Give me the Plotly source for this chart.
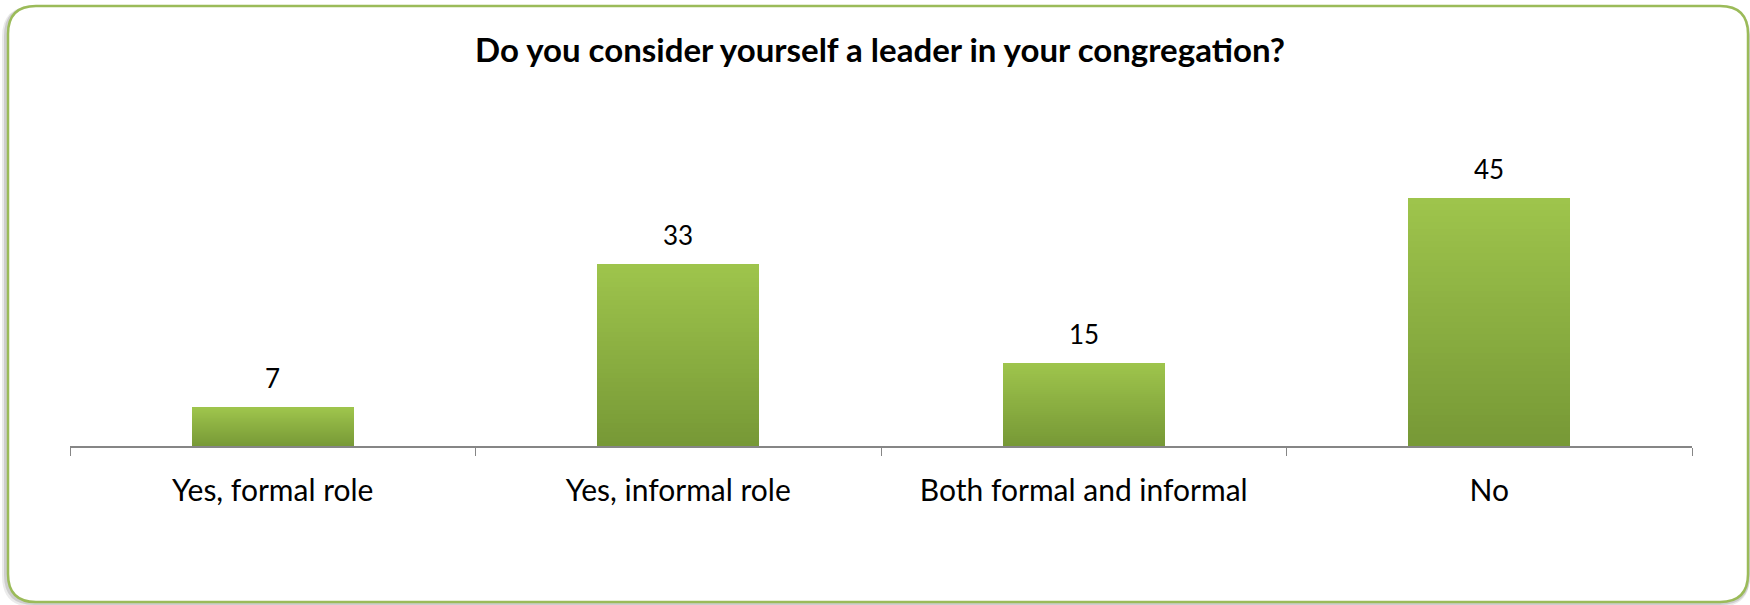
import plotly.graph_objects as go

categories = ["Yes, formal role", "Yes, informal role", "Both formal and informal", "No"]
values = [7, 33, 15, 45]
title_text = "Do you consider yourself a leader in your congregation?"

W, H = 1750, 605
PL, PR, PT, PB = 70, 1692, 170, 446  # plot area in pixels
Y_MAX = 50

N_SLICES = 40
top_rgb = (158, 196, 76)
bot_rgb = (119, 153, 54)

fig = go.Figure()
for i in range(N_SLICES):
    t = i / (N_SLICES - 1)
    c = tuple(round(bot_rgb[k] + (top_rgb[k] - bot_rgb[k]) * t) for k in range(3))
    fig.add_bar(
        x=categories,
        y=[v / N_SLICES for v in values],
        marker=dict(color="rgb(%d,%d,%d)" % c, line=dict(width=0)),
        hoverinfo="skip",
        showlegend=False,
    )

for cat, v in zip(categories, values):
    fig.add_annotation(x=cat, y=v, text=str(v), showarrow=False, yanchor="bottom",
                       yshift=11, font=dict(size=26, color="#000000", family="Lato"))


def px(x, y):
    return ((x - PL) / (PR - PL), (PB - y) / (PB - PT))


def rrect(x0, y0, x1, y1, r):
    def p(x, y):
        a, b = px(x, y)
        return "%.5f,%.5f" % (a, b)
    s = "M " + p(x0 + r, y0)
    s += " L " + p(x1 - r, y0)
    s += " Q " + p(x1, y0) + " " + p(x1, y0 + r)
    s += " L " + p(x1, y1 - r)
    s += " Q " + p(x1, y1) + " " + p(x1 - r, y1)
    s += " L " + p(x0 + r, y1)
    s += " Q " + p(x0, y1) + " " + p(x0, y1 - r)
    s += " L " + p(x0, y0 + r)
    s += " Q " + p(x0, y0) + " " + p(x0 + r, y0)
    s += " Z"
    return s

shapes = []
for off, col, w in [(3, "rgba(0,0,0,0.08)", 6), (2, "rgba(0,0,0,0.12)", 4)]:
    shapes.append(dict(type="path", path=rrect(8 - off, 6 + off, 1748 - off + 2, 602 + off - 1, 28),
                       xref="paper", yref="paper", line=dict(color=col, width=w), layer="below"))
shapes.append(dict(type="path", path=rrect(8, 6, 1748, 602, 28), xref="paper", yref="paper",
                   fillcolor="white", line=dict(color="#9BBB59", width=2.5), layer="below"))

fig.update_layout(
    width=W, height=H,
    margin=dict(l=PL, r=W - PR, t=PT, b=H - PB),
    barmode="stack", bargap=0.6,
    paper_bgcolor="white", plot_bgcolor="rgba(0,0,0,0)",
    shapes=shapes,
    title=dict(text="<b>" + title_text + "</b>", x=880 / W, xanchor="center", xref="container",
               y=1 - 50 / H, yanchor="middle", yref="container",
               font=dict(size=33, family="Lato", color="#000000")),
    font=dict(family="Lato", size=30, color="#000000"),
)
fig.update_xaxes(showline=True, linecolor="#868686", linewidth=1.5, ticks="outside",
                 tickson="boundaries", ticklen=8, tickcolor="#868686", tickwidth=1,
                 showgrid=False, tickfont=dict(size=30, family="Lato", color="#000000"),
                 ticklabelstandoff=17)
fig.update_yaxes(visible=False, range=[0, Y_MAX])

fig.write_html("out.html", config={"displayModeBar": False},
               post_script="document.body.style.margin='0';document.body.style.overflow='hidden';")
